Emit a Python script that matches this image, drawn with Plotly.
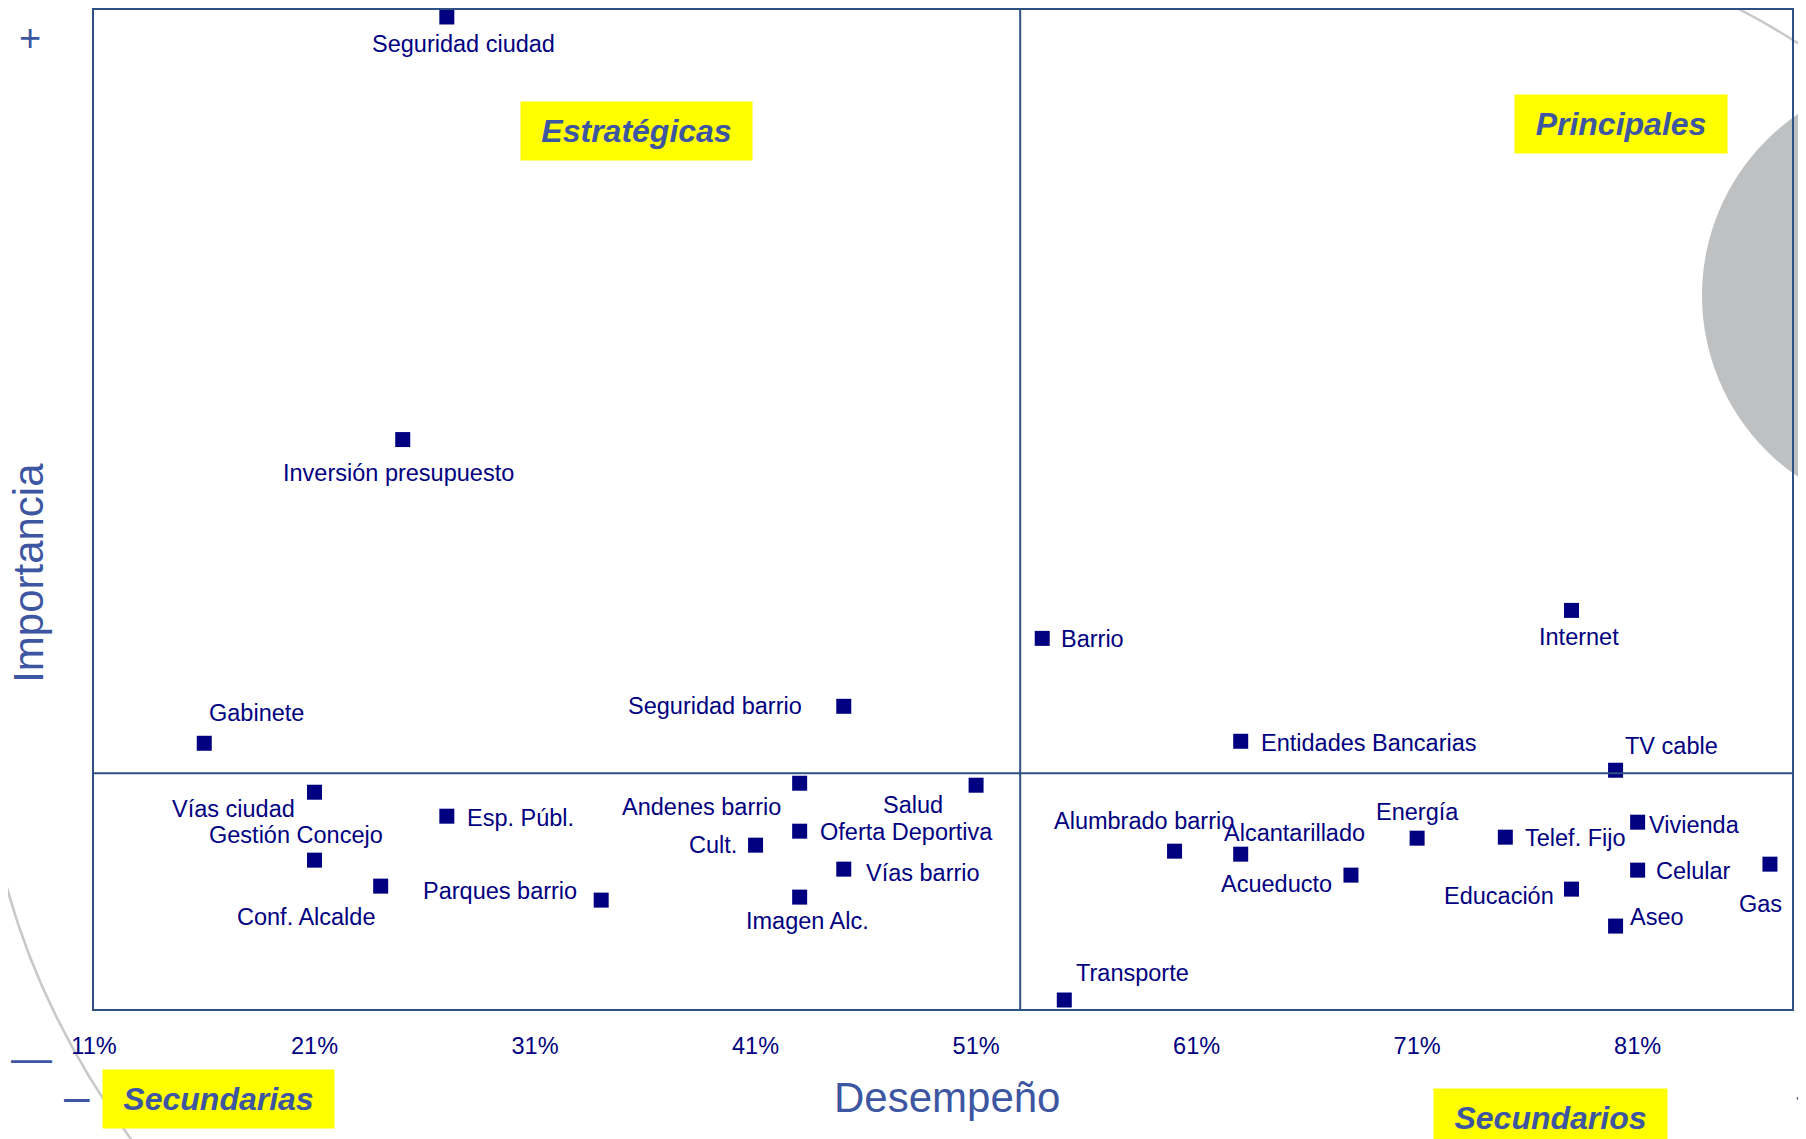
import plotly.graph_objects as go

# datos: desempeño (%) e importancia
servicios = ['Seguridad ciudad', 'Inversión presupuesto', 'Gabinete', 'Seguridad barrio',
             'Vías ciudad', 'Gestión Concejo', 'Esp. Públ.', 'Conf. Alcalde', 'Parques barrio',
             'Andenes barrio', 'Cult.', 'Oferta Deportiva', 'Vías barrio', 'Imagen Alc.', 'Salud',
             'Barrio', 'Internet', 'Entidades Bancarias', 'TV cable', 'Alumbrado barrio',
             'Alcantarillado', 'Acueducto', 'Energía', 'Telef. Fijo', 'Vivienda', 'Celular',
             'Gas', 'Educación', 'Aseo', 'Transporte']
desempeno = [27, 25, 16, 45, 21, 21, 27, 24, 34, 43, 41, 43, 45, 43, 51,
             54, 78, 63, 80, 60, 63, 68, 71, 75, 81, 81, 87, 78, 80, 55]
importancia = [99.3, 57.0, 26.6, 30.3, 21.7, 14.9, 19.3, 12.3, 10.9, 22.6, 16.4, 17.8, 14.0, 11.2, 22.4,
               37.1, 39.9, 26.8, 23.9, 15.8, 15.5, 13.4, 17.1, 17.2, 18.7, 13.9, 14.5, 12.0, 8.3, 0.9]
x_ticks = [11, 21, 31, 41, 51, 61, 71, 81]
x_labels = ['11%', '21%', '31%', '41%', '51%', '61%', '71%', '81%']
media_desempeno = 53
media_importancia = 23.6

# posición de cada etiqueta (anclaje, dx, dy en px)
etiquetas = [('center', 17, 27), ('center', -4, 33), ('center', 52, -30), ('right', -40, 0),
             ('right', -18, 17), ('center', -19, -25), ('left', 18, 2), ('center', -75, 31),
             ('right', -22, -9), ('right', -17, 24), ('right', -17, 0), ('left', 18, 1),
             ('left', 20, 4), ('center', 8, 24), ('right', -31, 20), ('left', 17, 1),
             ('center', 8, 27), ('left', 18, 2), ('left', 7, -24), ('center', -31, -30),
             ('left', -19, -21), ('right', -17, 9), ('center', 0, -26), ('left', 18, 1),
             ('left', 9, 3), ('left', 16, 1), ('center', -9, 40), ('right', -15, 7),
             ('left', 12, -9), ('left', 10, -27)]

NAVY = '#000080'
BORDE = '#2C5182'
AZUL = '#3D56A1'
FONT = 'Liberation Sans, Arial, sans-serif'

# la página añade 8 px de margen al cuerpo
OFF = 8
W, H = 1806 - OFF, 1139 - OFF
L, R, T, B = 86, 14, 0, 130


def px(x, y):
    # coordenadas de la página -> papel
    x, y = x - OFF, y - OFF
    return (x - L) / (W - L - R), (H - B - y) / (H - T - B)


fig = go.Figure()
fig.add_trace(go.Scatter(x=desempeno, y=importancia, mode='markers',
                         marker=dict(symbol='square', size=15, color=NAVY),
                         cliponaxis=False, hoverinfo='text', text=servicios))

for nombre, xv, yv, (anc, dx, dy) in zip(servicios, desempeno, importancia, etiquetas):
    fig.add_annotation(x=xv, y=yv, text=nombre, showarrow=False, xanchor=anc, yanchor='middle',
                       xshift=dx, yshift=-dy, font=dict(size=23.5, color=NAVY, family=FONT))

fig.add_vline(x=media_desempeno, line=dict(color=BORDE, width=2))
fig.add_hline(y=media_importancia, line=dict(color=BORDE, width=2))

# decoración
x0, y0 = px(1702, 514)
x1, y1 = px(2142, 74)
fig.add_shape(type='circle', xref='paper', yref='paper', x0=x0, y0=y0, x1=x1, y1=y1,
              fillcolor='#BFC0C2', line=dict(width=0), layer='below')


def ruta(pts):
    (ax, ay), (bx, by), (cx, cy) = [px(*p) for p in pts]
    return f'M {ax},{ay} Q {bx},{by} {cx},{cy}'


fig.add_shape(type='path', xref='paper', yref='paper', path=ruta([(0, 860), (35, 1010), (135, 1145)]),
              line=dict(color='#C8C8C8', width=2.5), layer='below')
fig.add_shape(type='path', xref='paper', yref='paper', path=ruta([(1735, 5), (1772, 24), (1810, 49)]),
              line=dict(color='#C8C8C8', width=2.5), layer='below')
for a, b in [(873, 1032), (1761, 1794)]:
    xa, ya = px(a, 6)
    xb, _ = px(b, 6)
    fig.add_shape(type='line', xref='paper', yref='paper', x0=xa, x1=xb, y0=ya, y1=ya,
                  line=dict(color=BORDE, width=3))

# cuadrantes
cuadros = [('Estratégicas', 636, 129, 231), ('Principales', 1621, 122, 212),
           ('Secundarias', 218, 1099, 231), ('Secundarios', 1550, 1118, 233)]
for txt, cx, cy, w in cuadros:
    xp, yp = px(cx, cy)
    fig.add_annotation(x=xp, y=yp, xref='paper', yref='paper', text=f'<b><i>{txt}</i></b>',
                       showarrow=False, bgcolor='#FFFF00', width=w, height=58, borderpad=0,
                       xanchor='center', yanchor='middle',
                       font=dict(size=32, color=AZUL, family=FONT))

# títulos y signos
for txt, cx, cy, size, ang in [('Desempeño', 947, 1098, 42, 0), ('Importancia', 29, 572, 42, -90),
                               ('+', 30, 36, 38, 0), ('—', 31, 1058, 41, 0), ('–', 77, 1096, 46, 0),
                               ('+', 1806, 1098, 38, 0)]:
    xp, yp = px(cx, cy)
    fig.add_annotation(x=xp, y=yp, xref='paper', yref='paper', text=txt, showarrow=False,
                       textangle=ang, xanchor='center', yanchor='middle',
                       font=dict(size=size, color=AZUL, family=FONT))

fig.update_xaxes(range=[11, 88], tickvals=x_ticks, ticktext=x_labels, showgrid=False, zeroline=False,
                 showline=True, mirror=True, linecolor=BORDE, linewidth=2, ticks='',
                 ticklabelstandoff=15, tickfont=dict(size=23.5, color=NAVY, family=FONT))
fig.update_yaxes(range=[0, 100], showticklabels=False, showgrid=False, zeroline=False,
                 showline=True, mirror=True, linecolor=BORDE, linewidth=2, ticks='')
fig.update_layout(width=W, height=H, margin=dict(l=L, r=R, t=T, b=B), showlegend=False,
                  plot_bgcolor='rgba(0,0,0,0)', paper_bgcolor='white', font=dict(family=FONT))
fig.write_html('out.html')
